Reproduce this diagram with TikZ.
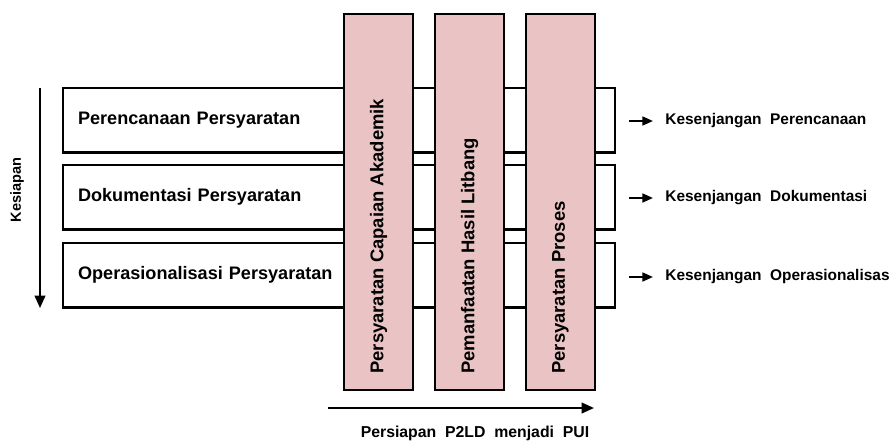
\documentclass[tikz,border=0pt]{standalone}
\usepackage{fontspec}
\setmainfont{Liberation Sans}
\usetikzlibrary{arrows.meta}
\definecolor{colpink}{RGB}{234,196,196}
\tikzset{
  rowbox/.style = {draw, line width=1.2pt, fill=white, minimum width=11.04cm, minimum height=1.29cm,
                   anchor=north west, text width=10.44cm, align=left, font=\bfseries\fontsize{10.3}{12}\selectfont},
  colbox/.style = {draw, line width=1.2pt, fill=colpink, minimum width=1.38cm, minimum height=7.52cm, anchor=north west},
  coltext/.style = {rotate=90, anchor=west, inner sep=0pt, font=\bfseries\fontsize{10.5}{12}\selectfont},
  gaptext/.style = {anchor=west, inner sep=0pt, font=\bfseries\fontsize{8.8}{10}\selectfont},
  bigarrow/.style = {line width=1.2pt, -{Triangle[length=7pt, width=6pt]}},
  smallarrow/.style = {line width=1.2pt, -{Triangle[length=6pt, width=5pt]}}
}
\newcommand{\gap}[3]{\coordinate (a#1) at (629,#2); \coordinate (b#1) at (653,#2);
  \draw[smallarrow] (a#1) -- (b#1); \node[gaptext] (g#1) at (665,#2) {#3};}

\begin{document}
\begin{tikzpicture}[x=0.02cm, y=-0.02cm]
\useasboundingbox (0,0) rectangle (889,440);
% rows
\node[rowbox] (r1) at (62,87) {Perencanaan Persyaratan};
\node[rowbox] (r2) at (62,164) {Dokumentasi Persyaratan};
\node[rowbox] (r3) at (62,242) {Operasionalisasi Persyaratan};
% columns
\node[colbox] (c1) at (343,13) {};
\node[colbox] (c2) at (434,13) {};
\node[colbox] (c3) at (525,13) {};
\node[coltext] (t1) at ([yshift=0.34cm]c1.south) {Persyaratan Capaian Akademik};
\node[coltext] (t2) at ([yshift=0.34cm]c2.south) {Pemanfaatan Hasil Litbang};
\node[coltext] (t3) at ([yshift=0.34cm]c3.south) {Persyaratan Proses};
% kesiapan
\coordinate (k1) at (40,88);
\coordinate (k2) at (40,308);
\draw[bigarrow] (k1) -- (k2);
\node[rotate=90, font=\bfseries\fontsize{8.3}{10}\selectfont] (ks) at (17,190) {Kesiapan};
% persiapan
\coordinate (p1) at (328,408);
\coordinate (p2) at (594,408);
\draw[bigarrow] (p1) -- (p2);
\node[font=\bfseries\fontsize{9}{10}\selectfont] (ps) at (475,433) {Persiapan\ \ P2LD\ \ menjadi\ \ PUI};
% kesenjangan
\gap{1}{121}{Kesenjangan\ \ Perencanaan}
\gap{2}{198}{Kesenjangan\ \ Dokumentasi}
\gap{3}{277}{Kesenjangan\ \ Operasionalisasi}
\end{tikzpicture}
\end{document}
